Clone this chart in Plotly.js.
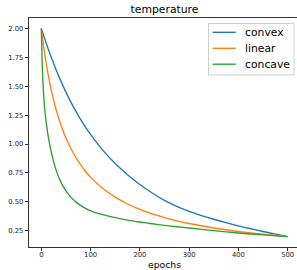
<!DOCTYPE html>
<html>
<head>
<meta charset="utf-8">
<script src="https://cdn.plot.ly/plotly-3.0.1.min.js"></script>
<style>
html,body{margin:0;padding:0;overflow:hidden;background:#fff;}
#chart{width:300px;height:270px;}
</style>
</head>
<body>
<div id="chart"></div>
<script>
const seriesNames = ['convex', 'linear', 'concave'];
const seriesColors = ['#1f77b4', '#ff7f0e', '#2ca02c'];

const epochsConvex = [0,10,20,30,40,50,60,70,80,90,100,125,150,175,200,225,250,275,300,325,350,375,400,425,450,475,500];
const convex = [2.000,1.871,1.752,1.642,1.542,1.449,1.363,1.285,1.212,1.145,1.083,0.945,0.832,0.735,0.650,0.577,0.513,0.461,0.418,0.382,0.350,0.320,0.293,0.268,0.244,0.222,0.200];

const epochsLinear = [0,5,10,15,20,30,40,50,60,70,80,90,100,125,150,175,200,225,250,275,300,350,400,450,500];
const linear = [2.000,1.835,1.695,1.575,1.471,1.299,1.163,1.053,0.962,0.885,0.820,0.763,0.714,0.615,0.541,0.482,0.435,0.396,0.364,0.336,0.313,0.274,0.244,0.220,0.200];

const epochsConcave = [0,2,4,6,8,10,15,20,30,40,50,60,70,85,100,125,150,175,200,225,250,275,300,350,400,450,500];
const concave = [2.000,1.667,1.471,1.351,1.258,1.183,1.042,0.935,0.775,0.669,0.595,0.541,0.500,0.455,0.423,0.390,0.364,0.343,0.326,0.311,0.297,0.285,0.274,0.251,0.231,0.215,0.200];

const xTicks = [0,100,200,300,400,500];
const yTicks = [0.25,0.50,0.75,1.00,1.25,1.50,1.75,2.00];

const xs = [epochsConvex, epochsLinear, epochsConcave];
const ys = [convex, linear, concave];

const traces = seriesNames.map((name, i) => ({
  type: 'scatter',
  mode: 'lines',
  name: name,
  showlegend: false,
  x: xs[i],
  y: ys[i],
  line: {color: seriesColors[i], width: 1.35, shape: 'spline', smoothing: 0.6}
}));

const font = 'DejaVu Sans, sans-serif';

// plot-area geometry in pixels (for the hand-built legend)
const W = 300, H = 270, ML = 29, MR = 0, MT = 18, MB = 23;
const pw = W - ML - MR, ph = H - MT - MB;
const px = p => (p - ML) / pw;
const py = p => (H - MB - p) / ph;

const legBox = {x0: 208.5, x1: 294, y0: 23.5, y1: 75};
const legRows = [32.3, 48.3, 64.2];
const shapes = [{
  type: 'rect', xref: 'paper', yref: 'paper', layer: 'above',
  x0: px(legBox.x0), x1: px(legBox.x1), y0: py(legBox.y1), y1: py(legBox.y0),
  line: {color: '#cfcfcf', width: 1}, fillcolor: 'rgba(255,255,255,0.8)'
}];
const annotations = [];
seriesNames.forEach((name, i) => {
  shapes.push({
    type: 'line', xref: 'paper', yref: 'paper', layer: 'above',
    x0: px(212.5), x1: px(235.8), y0: py(legRows[i]), y1: py(legRows[i]),
    line: {color: seriesColors[i], width: 1.35}
  });
  annotations.push({
    xref: 'paper', yref: 'paper', x: px(242.5), y: py(legRows[i]),
    xanchor: 'left', yanchor: 'middle', showarrow: false, text: name,
    font: {family: font, size: 10.8, color: '#000'}
  });
});

const axisCommon = {
  showline: true,
  mirror: true,
  linecolor: '#000',
  linewidth: 0.8,
  ticks: 'outside',
  ticklen: 3.5,
  tickwidth: 0.8,
  tickcolor: '#000',
  showgrid: false,
  zeroline: false,
  tickfont: {family: font, size: 6.8, color: '#222'}
};

const layout = {
  width: W,
  height: H,
  margin: {l: ML, r: MR, t: MT, b: MB},
  paper_bgcolor: '#fff',
  plot_bgcolor: '#fff',
  font: {family: font, color: '#000'},
  showlegend: false,
  title: {
    text: 'temperature',
    font: {family: font, size: 10.8, color: '#000'},
    xref: 'paper', x: 0.5, xanchor: 'center',
    yref: 'container', y: 1 - 9.5/270, yanchor: 'middle'
  },
  xaxis: Object.assign({}, axisCommon, {
    range: [-25, 525],
    tickvals: xTicks,
    ticktext: xTicks.map(String),
    ticklabelstandoff: -2,
    title: {text: 'epochs', font: {family: font, size: 9.3, color: '#000'}, standoff: 2}
  }),
  yaxis: Object.assign({}, axisCommon, {
    range: [0.11, 2.09],
    tickvals: yTicks,
    ticktext: yTicks.map(v => v.toFixed(2))
  }),
  shapes: shapes,
  annotations: annotations
};

Plotly.newPlot('chart', traces, layout, {staticPlot: true, displayModeBar: false});
</script>
</body>
</html>
